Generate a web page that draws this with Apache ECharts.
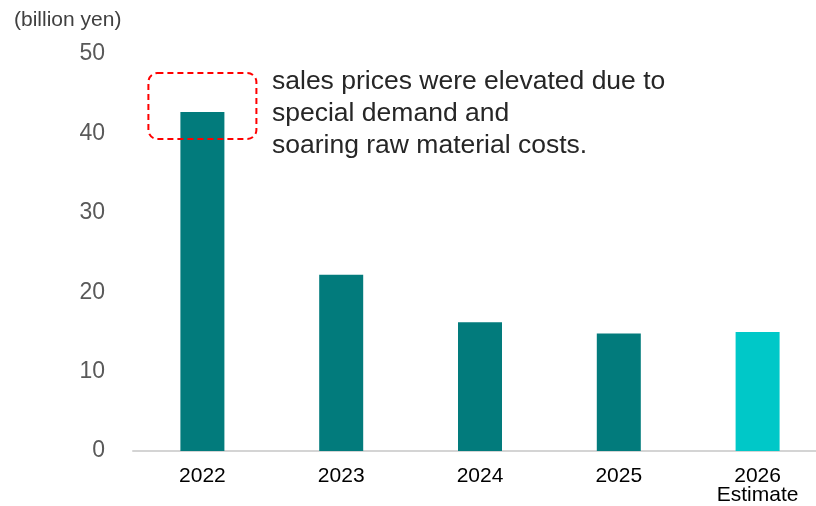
<!DOCTYPE html>
<html>
<head>
<meta charset="utf-8">
<script src="https://cdn.jsdelivr.net/npm/echarts@6/dist/echarts.min.js"></script>
<style>
  html, body { margin: 0; padding: 0; background: #fff; overflow: hidden; }
  /* plot area runs slightly past the right edge of the window */
  #chart { width: 827px; height: 506px; }
</style>
</head>
<body>
<div id="chart"></div>
<script>
// Categories and values (billion yen)
const categories = ['2022', '2023', '2024', '2025', '2026\nEstimate'];
const values = [42.7, 22.2, 16.2, 14.8, 15.0];
const estimateFlags = [false, false, false, false, true];
const yTicks = { min: 0, max: 50, interval: 10 };
const unitLabel = '(billion yen)';
const noteLines = [
  'sales prices were elevated due to',
  'special demand and',
  'soaring raw material costs.'
];
// Highlight box around the top of the first bar (value range)
const highlightRange = { category: '2022', from: 39.3, to: 47.6 };

const ACTUAL = '#027B7C';
const ESTIMATE = '#00C8C8';
const FONT = '"Liberation Sans", Arial, sans-serif';

const chart = echarts.init(document.getElementById('chart'), null, { renderer: 'canvas' });

chart.setOption({
  animation: false,
  backgroundColor: '#ffffff',
  grid: { left: 133, right: 0, top: 54, bottom: 53, containLabel: false },
  xAxis: {
    type: 'category',
    data: categories,
    axisLine: { lineStyle: { color: '#d4d4d4', width: 2 } },
    axisTick: { show: false },
    axisLabel: {
      color: '#000000', fontSize: 21, fontFamily: FONT,
      margin: 16, lineHeight: 19
    }
  },
  yAxis: {
    type: 'value',
    min: yTicks.min, max: yTicks.max, interval: yTicks.interval,
    splitLine: { show: false },
    axisLine: { show: false },
    axisTick: { show: false },
    axisLabel: {
      color: '#595959', fontSize: 23, fontFamily: FONT, margin: 28,
      padding: [5, 0, 0, 0]
    }
  },
  series: [{
    type: 'bar',
    barWidth: 44,
    data: values.map((v, i) => ({
      value: v,
      itemStyle: { color: estimateFlags[i] ? ESTIMATE : ACTUAL }
    }))
  }]
});

// Position overlay graphics from axis coordinates
const catIndex = categories.indexOf(highlightRange.category);
const pTop = chart.convertToPixel({ gridIndex: 0 }, [catIndex, highlightRange.to]);
const pBot = chart.convertToPixel({ gridIndex: 0 }, [catIndex, highlightRange.from]);
const halfW = 54;

chart.setOption({
  graphic: [
    {
      type: 'text', left: 14, top: 10,
      style: { text: unitLabel, fill: '#404040', fontSize: 21, fontFamily: FONT }
    },
    {
      type: 'rect',
      shape: { x: pTop[0] - halfW, y: pTop[1], width: halfW * 2, height: pBot[1] - pTop[1], r: 9 },
      style: { fill: 'none', stroke: '#ff0000', lineWidth: 2, lineDash: [6, 4] },
      z: 10
    },
    {
      type: 'text', left: 272, top: 66,
      style: {
        text: noteLines.join('\n'), fill: '#262626', fontSize: 26.5,
        lineHeight: 32, fontFamily: FONT
      }
    }
  ]
});
</script>
</body>
</html>
